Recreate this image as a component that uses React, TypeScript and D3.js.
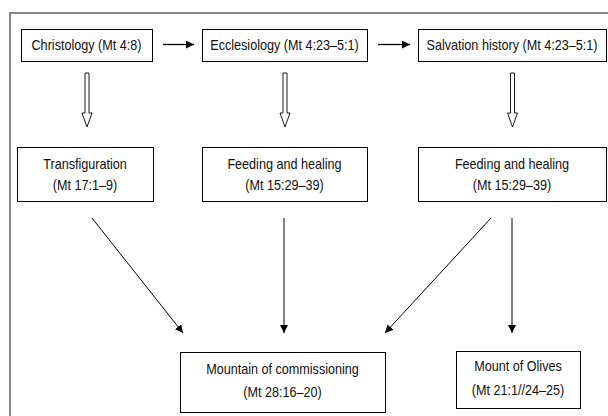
import React from "react";
import * as d3 from "d3";

// diagram content
const topLabels = ["Christology (Mt 4:8)", "Ecclesiology (Mt 4:23–5:1)", "Salvation history (Mt 4:23–5:1)"];
const midLabels = [
  ["Transfiguration", "(Mt 17:1–9)"],
  ["Feeding and healing", "(Mt 15:29–39)"],
  ["Feeding and healing", "(Mt 15:29–39)"],
];
const bottomLabels = [
  ["Mountain of commissioning", "(Mt 28:16–20)"],
  ["Mount of Olives", "(Mt 21:1//24–25)"],
];
// mid box index -> bottom box index
const links = [
  [0, 0],
  [1, 0],
  [2, 0],
  [2, 1],
];

const W = 608;
const H = 416;
const font = "'Liberation Sans', Arial, sans-serif";
const FS = 14.5;
const SX = 0.87; // the original face is a condensed Arial

// box geometry for each row
const topBoxes = [
  { x0: 21, x1: 152 },
  { x0: 202, x1: 367 },
  { x0: 418, x1: 606 },
];
const midBoxes = [
  { x0: 17, x1: 153 },
  { x0: 202, x1: 367 },
  { x0: 418, x1: 606 },
];
const bottomBoxes = [
  { x0: 180, x1: 385, y0: 352, y1: 412 },
  { x0: 456, x1: 580, y0: 351, y1: 408 },
];
// where each link starts on the mid row and ends above the bottom row
const linkStartX = [92, 284, 491, 512];
const linkEndX = [183, 284, 385, 512];

const TOP_Y0 = 29, TOP_Y1 = 61;
const MID_Y0 = 147, MID_Y1 = 201;

function Label({ x, y, text }: { x: number; y: number; text: string }) {
  return (
    <text
      transform={`translate(${x},${y}) scale(${SX},1)`}
      textAnchor="middle"
      fontFamily={font}
      fontSize={FS}
      fill="#111"
    >
      {text}
    </text>
  );
}

function HollowArrow({ cx }: { cx: number }) {
  const p = d3.path();
  const sw = 2, hw = 5, top = 73, neck = 113, tip = 127;
  p.moveTo(cx - sw, top);
  p.lineTo(cx + sw, top);
  p.lineTo(cx + sw, neck);
  p.lineTo(cx + hw, neck);
  p.lineTo(cx, tip);
  p.lineTo(cx - hw, neck);
  p.lineTo(cx - sw, neck);
  p.closePath();
  return <path d={p.toString()} fill="#fff" stroke="#000" strokeWidth={0.9} />;
}

export default function App() {
  const line = d3.line();
  return (
    <svg width={W} height={H} style={{ position: "absolute", left: 0, top: 0, background: "#fff" }}>
      <defs>
        <marker id="ah" viewBox="0 0 10 10" refX="10" refY="5" markerWidth="8" markerHeight="8" markerUnits="userSpaceOnUse" orient="auto">
          <path d="M0,0 L10,5 L0,10 Z" fill="#000" />
        </marker>
      </defs>
      <rect x={0} y={0} width={W} height={H} fill="#fff" />
      {/* outer frame, only top and left visible */}
      <path d={line([[10, H], [10, 13], [W, 13]]) || ""} fill="none" stroke="#888" strokeWidth={2} />

      {topLabels.map((t, i) => {
        const b = topBoxes[i];
        const cx = (b.x0 + b.x1) / 2;
        return (
          <g key={"t" + i}>
            <rect x={b.x0 + 0.5} y={TOP_Y0 + 0.5} width={b.x1 - b.x0} height={TOP_Y1 - TOP_Y0} fill="#fff" stroke="#000" />
            <Label x={cx} y={50} text={t} />
            <HollowArrow cx={cx + 0.5} />
          </g>
        );
      })}

      {/* horizontal arrows between top boxes */}
      {[0, 1].map((i) => (
        <path
          key={"h" + i}
          d={line([[topBoxes[i].x1 + 11, 44.5], [topBoxes[i + 1].x0 - 8, 44.5]]) || ""}
          stroke="#000"
          strokeWidth={1.3}
          markerEnd="url(#ah)"
        />
      ))}

      {midLabels.map((t, i) => {
        const b = midBoxes[i];
        const cx = (b.x0 + b.x1) / 2;
        return (
          <g key={"m" + i}>
            <rect x={b.x0 + 0.5} y={MID_Y0 + 0.5} width={b.x1 - b.x0} height={MID_Y1 - MID_Y0} fill="#fff" stroke="#000" />
            <Label x={cx} y={169} text={t[0]} />
            <Label x={cx} y={190} text={t[1]} />
          </g>
        );
      })}

      {links.map((l, i) => (
        <path
          key={"l" + i}
          d={line([[linkStartX[i], 218], [linkEndX[i], 333]]) || ""}
          stroke="#000"
          strokeWidth={1}
          markerEnd="url(#ah)"
        />
      ))}

      {bottomLabels.map((t, i) => {
        const b = bottomBoxes[i];
        const cx = (b.x0 + b.x1) / 2;
        const cy = (b.y0 + b.y1) / 2;
        return (
          <g key={"b" + i}>
            <rect x={b.x0 + 0.5} y={b.y0 + 0.5} width={b.x1 - b.x0} height={b.y1 - b.y0} fill="#fff" stroke="#000" />
            <Label x={cx} y={cy - 8.5} text={t[0]} />
            <Label x={cx} y={cy + 15} text={t[1]} />
          </g>
        );
      })}
    </svg>
  );
}
